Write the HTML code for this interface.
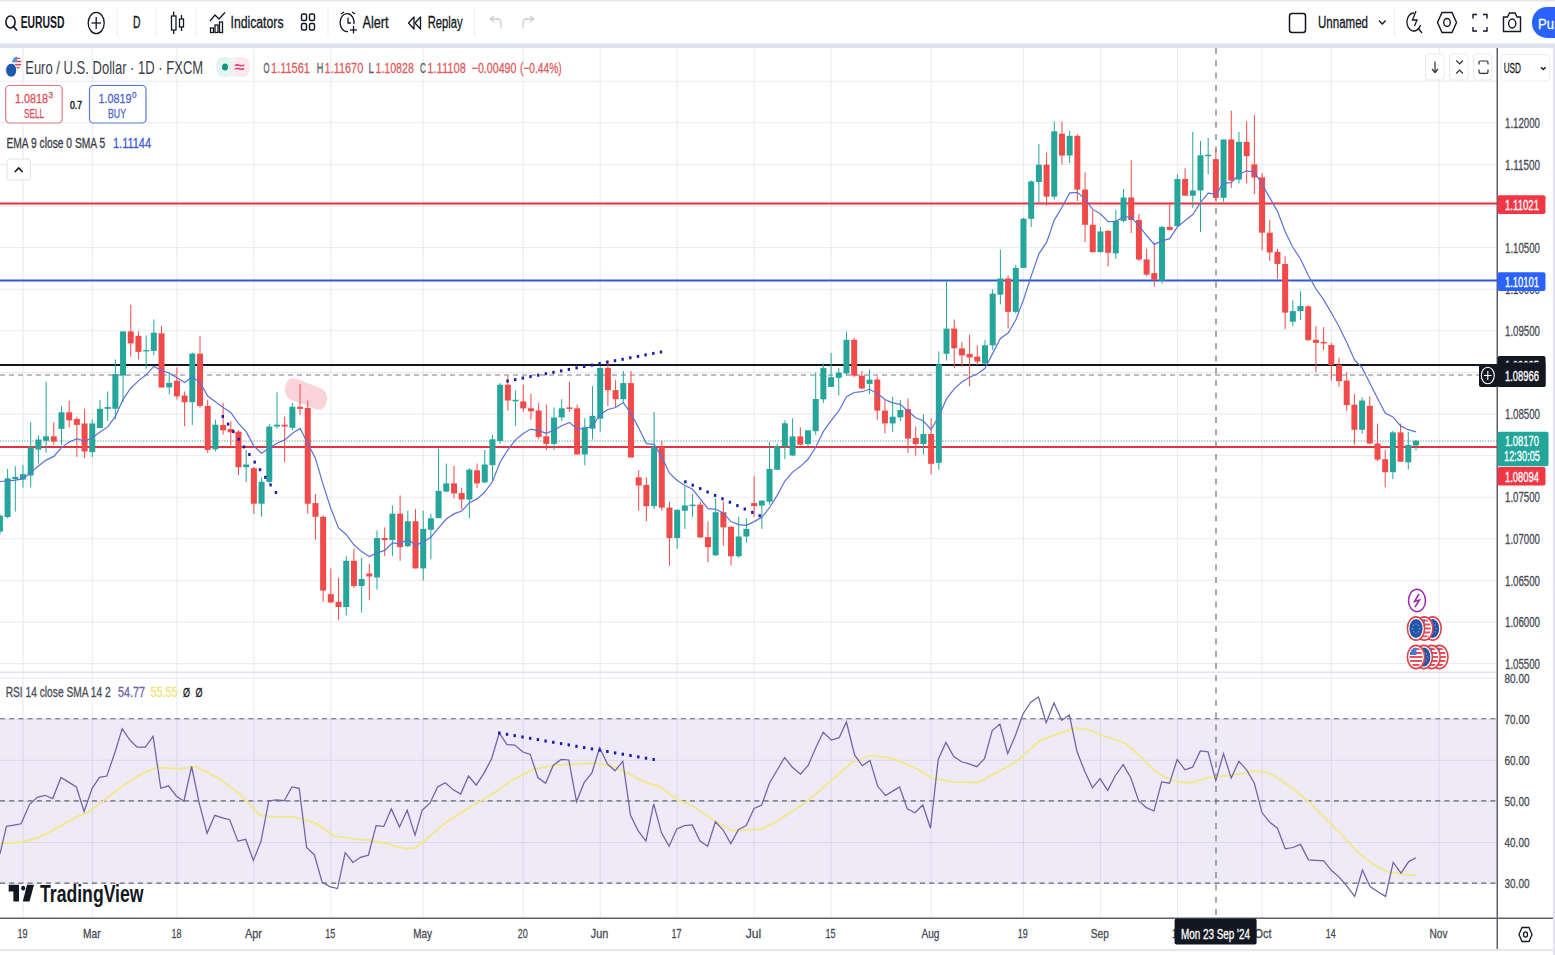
<!DOCTYPE html>
<html><head><meta charset="utf-8"><style>
html,body{margin:0;padding:0;background:#fff;}
body{width:1555px;height:955px;overflow:hidden;font-family:"Liberation Sans", sans-serif;}
svg text{font-family:"Liberation Sans", sans-serif;}
</style></head><body>
<svg width="1555" height="955" viewBox="0 0 1555 955" style="display:block">
<rect x="0" y="0" width="1555" height="955" fill="#ffffff"/>
<rect x="0" y="0" width="1555" height="1.5" fill="#e3e5ea"/>
<rect x="0" y="43.5" width="1555" height="4.5" fill="#e0e3eb"/>
<rect x="22.5" y="48" width="1" height="870" fill="#e9eaee"/>
<rect x="91.8" y="48" width="1" height="870" fill="#e9eaee"/>
<rect x="176.4" y="48" width="1" height="870" fill="#e9eaee"/>
<rect x="253.4" y="48" width="1" height="870" fill="#e9eaee"/>
<rect x="330.3" y="48" width="1" height="870" fill="#e9eaee"/>
<rect x="422.7" y="48" width="1" height="870" fill="#e9eaee"/>
<rect x="522.7" y="48" width="1" height="870" fill="#e9eaee"/>
<rect x="599.7" y="48" width="1" height="870" fill="#e9eaee"/>
<rect x="676.7" y="48" width="1" height="870" fill="#e9eaee"/>
<rect x="753.6" y="48" width="1" height="870" fill="#e9eaee"/>
<rect x="830.6" y="48" width="1" height="870" fill="#e9eaee"/>
<rect x="930.6" y="48" width="1" height="870" fill="#e9eaee"/>
<rect x="1023.0" y="48" width="1" height="870" fill="#e9eaee"/>
<rect x="1099.9" y="48" width="1" height="870" fill="#e9eaee"/>
<rect x="1176.9" y="48" width="1" height="870" fill="#e9eaee"/>
<rect x="1261.6" y="48" width="1" height="870" fill="#e9eaee"/>
<rect x="1330.8" y="48" width="1" height="870" fill="#e9eaee"/>
<rect x="1438.6" y="48" width="1" height="870" fill="#e9eaee"/>
<rect x="0" y="80.7" width="1497" height="1" fill="#e9eaee"/>
<rect x="0" y="122.3" width="1497" height="1" fill="#e9eaee"/>
<rect x="0" y="163.9" width="1497" height="1" fill="#e9eaee"/>
<rect x="0" y="205.5" width="1497" height="1" fill="#e9eaee"/>
<rect x="0" y="247.1" width="1497" height="1" fill="#e9eaee"/>
<rect x="0" y="288.7" width="1497" height="1" fill="#e9eaee"/>
<rect x="0" y="330.3" width="1497" height="1" fill="#e9eaee"/>
<rect x="0" y="371.9" width="1497" height="1" fill="#e9eaee"/>
<rect x="0" y="413.5" width="1497" height="1" fill="#e9eaee"/>
<rect x="0" y="455.1" width="1497" height="1" fill="#e9eaee"/>
<rect x="0" y="496.7" width="1497" height="1" fill="#e9eaee"/>
<rect x="0" y="538.3" width="1497" height="1" fill="#e9eaee"/>
<rect x="0" y="579.9" width="1497" height="1" fill="#e9eaee"/>
<rect x="0" y="621.5" width="1497" height="1" fill="#e9eaee"/>
<rect x="0" y="663.1" width="1497" height="1" fill="#e9eaee"/>
<rect x="0" y="677.6" width="1497" height="1" fill="#e9eaee"/>
<rect x="0" y="718.7" width="1497" height="1" fill="#e9eaee"/>
<rect x="0" y="759.8" width="1497" height="1" fill="#e9eaee"/>
<rect x="0" y="800.9" width="1497" height="1" fill="#e9eaee"/>
<rect x="0" y="842.0" width="1497" height="1" fill="#e9eaee"/>
<rect x="0" y="883.1" width="1497" height="1" fill="#e9eaee"/>
<rect x="0" y="671.5" width="1497" height="1.5" fill="#e0e3eb"/>
<rect x="0" y="718.7" width="1497" height="164.4" fill="#7e57c2" fill-opacity="0.125"/>
<line x1="0" y1="718.7" x2="1497" y2="718.7" stroke="#62656f" stroke-width="1.1" stroke-dasharray="5 4.2"/>
<line x1="0" y1="800.9" x2="1497" y2="800.9" stroke="#62656f" stroke-width="1.1" stroke-dasharray="5 4.2"/>
<line x1="0" y1="883.1" x2="1497" y2="883.1" stroke="#62656f" stroke-width="1.1" stroke-dasharray="5 4.2"/>
<rect x="0" y="202.5" width="1497" height="2" fill="#e5323f"/>
<rect x="0" y="279.5" width="1497" height="2" fill="#3058d8"/>
<rect x="0" y="364" width="1497" height="2" fill="#131722"/>
<line x1="0" y1="375" x2="1480" y2="375" stroke="#787b86" stroke-width="1" stroke-dasharray="5 4"/>
<rect x="0" y="446" width="1497" height="2" fill="#e5323f"/>
<line x1="0" y1="441" x2="1497" y2="441" stroke="#5f9e92" stroke-width="1" stroke-dasharray="1.3 1.4"/>
<line x1="1216" y1="48" x2="1216" y2="918" stroke="#6f727d" stroke-width="1.2" stroke-dasharray="6 6.3"/>
<rect x="-28.5" y="-11" width="57" height="22" rx="11" fill="#fcd3d9" transform="translate(306 394) scale(0.76 1) rotate(16)"/>
<rect x="-0.59" y="514.3" width="1" height="20.0" fill="#26a69a"/>
<rect x="-3.09" y="515.6" width="6" height="16.0" fill="#26a69a"/>
<rect x="7.11" y="468.9" width="1" height="49.4" fill="#26a69a"/>
<rect x="4.61" y="478.3" width="6" height="38.7" fill="#26a69a"/>
<rect x="14.80" y="466.2" width="1" height="45.4" fill="#26a69a"/>
<rect x="12.30" y="476.9" width="6" height="2.1" fill="#26a69a"/>
<rect x="22.50" y="464.9" width="1" height="22.7" fill="#26a69a"/>
<rect x="20.00" y="474.2" width="6" height="5.3" fill="#26a69a"/>
<rect x="30.20" y="422.2" width="1" height="65.4" fill="#26a69a"/>
<rect x="27.70" y="447.5" width="6" height="28.0" fill="#26a69a"/>
<rect x="37.89" y="435.5" width="1" height="28.0" fill="#26a69a"/>
<rect x="35.39" y="439.5" width="6" height="10.1" fill="#26a69a"/>
<rect x="45.59" y="382.1" width="1" height="70.8" fill="#26a69a"/>
<rect x="43.09" y="436.3" width="6" height="4.5" fill="#26a69a"/>
<rect x="53.28" y="422.2" width="1" height="22.7" fill="#f14a4a"/>
<rect x="50.78" y="436.3" width="6" height="5.3" fill="#f14a4a"/>
<rect x="60.98" y="406.2" width="1" height="38.7" fill="#26a69a"/>
<rect x="58.48" y="412.3" width="6" height="16.6" fill="#26a69a"/>
<rect x="68.68" y="400.8" width="1" height="26.7" fill="#f14a4a"/>
<rect x="66.18" y="412.3" width="6" height="8.0" fill="#f14a4a"/>
<rect x="76.37" y="416.8" width="1" height="40.1" fill="#f14a4a"/>
<rect x="73.87" y="419.0" width="6" height="5.9" fill="#f14a4a"/>
<rect x="84.07" y="408.8" width="1" height="49.4" fill="#f14a4a"/>
<rect x="81.57" y="423.5" width="6" height="28.0" fill="#f14a4a"/>
<rect x="91.76" y="419.5" width="1" height="37.4" fill="#26a69a"/>
<rect x="89.26" y="423.5" width="6" height="28.6" fill="#26a69a"/>
<rect x="99.46" y="400.0" width="1" height="28.3" fill="#26a69a"/>
<rect x="96.96" y="408.8" width="6" height="19.2" fill="#26a69a"/>
<rect x="107.16" y="391.5" width="1" height="29.4" fill="#26a69a"/>
<rect x="104.66" y="407.0" width="6" height="1.9" fill="#26a69a"/>
<rect x="114.85" y="359.4" width="1" height="60.1" fill="#26a69a"/>
<rect x="112.35" y="374.1" width="6" height="34.7" fill="#26a69a"/>
<rect x="122.55" y="331.4" width="1" height="70.8" fill="#26a69a"/>
<rect x="120.05" y="331.4" width="6" height="44.1" fill="#26a69a"/>
<rect x="130.24" y="304.7" width="1" height="52.1" fill="#f14a4a"/>
<rect x="127.74" y="331.4" width="6" height="12.0" fill="#f14a4a"/>
<rect x="137.94" y="331.4" width="1" height="28.0" fill="#f14a4a"/>
<rect x="135.44" y="335.9" width="6" height="16.0" fill="#f14a4a"/>
<rect x="145.64" y="335.4" width="1" height="33.4" fill="#26a69a"/>
<rect x="143.14" y="350.1" width="6" height="1.3" fill="#26a69a"/>
<rect x="153.33" y="319.4" width="1" height="36.0" fill="#26a69a"/>
<rect x="150.83" y="332.7" width="6" height="18.2" fill="#26a69a"/>
<rect x="161.03" y="326.0" width="1" height="61.4" fill="#f14a4a"/>
<rect x="158.53" y="333.3" width="6" height="54.2" fill="#f14a4a"/>
<rect x="168.72" y="372.8" width="1" height="21.4" fill="#26a69a"/>
<rect x="166.22" y="382.9" width="6" height="4.5" fill="#26a69a"/>
<rect x="176.42" y="367.4" width="1" height="32.0" fill="#f14a4a"/>
<rect x="173.92" y="380.8" width="6" height="15.5" fill="#f14a4a"/>
<rect x="184.12" y="391.5" width="1" height="34.7" fill="#f14a4a"/>
<rect x="181.62" y="395.5" width="6" height="6.7" fill="#f14a4a"/>
<rect x="191.81" y="352.8" width="1" height="72.1" fill="#26a69a"/>
<rect x="189.31" y="353.6" width="6" height="48.6" fill="#26a69a"/>
<rect x="199.51" y="336.1" width="1" height="71.4" fill="#f14a4a"/>
<rect x="197.01" y="353.7" width="6" height="52.2" fill="#f14a4a"/>
<rect x="207.20" y="399.8" width="1" height="53.1" fill="#f14a4a"/>
<rect x="204.70" y="405.9" width="6" height="44.0" fill="#f14a4a"/>
<rect x="214.90" y="419.6" width="1" height="31.9" fill="#26a69a"/>
<rect x="212.40" y="424.7" width="6" height="24.6" fill="#26a69a"/>
<rect x="222.60" y="402.9" width="1" height="31.9" fill="#f14a4a"/>
<rect x="220.10" y="425.1" width="6" height="5.2" fill="#f14a4a"/>
<rect x="230.29" y="421.1" width="1" height="24.3" fill="#f14a4a"/>
<rect x="227.79" y="429.0" width="6" height="3.3" fill="#f14a4a"/>
<rect x="237.99" y="430.2" width="1" height="44.9" fill="#f14a4a"/>
<rect x="235.49" y="431.7" width="6" height="35.5" fill="#f14a4a"/>
<rect x="245.68" y="450.0" width="1" height="31.9" fill="#26a69a"/>
<rect x="243.18" y="464.5" width="6" height="2.7" fill="#26a69a"/>
<rect x="253.38" y="466.7" width="1" height="47.1" fill="#f14a4a"/>
<rect x="250.88" y="468.2" width="6" height="35.5" fill="#f14a4a"/>
<rect x="261.08" y="477.3" width="1" height="39.5" fill="#26a69a"/>
<rect x="258.58" y="481.8" width="6" height="21.9" fill="#26a69a"/>
<rect x="268.77" y="424.1" width="1" height="59.2" fill="#26a69a"/>
<rect x="266.27" y="426.6" width="6" height="55.3" fill="#26a69a"/>
<rect x="276.47" y="392.3" width="1" height="36.4" fill="#26a69a"/>
<rect x="273.97" y="424.7" width="6" height="1.8" fill="#26a69a"/>
<rect x="284.16" y="416.5" width="1" height="45.6" fill="#f14a4a"/>
<rect x="281.66" y="424.7" width="6" height="1.8" fill="#f14a4a"/>
<rect x="291.86" y="402.9" width="1" height="27.3" fill="#26a69a"/>
<rect x="289.36" y="406.8" width="6" height="21.0" fill="#26a69a"/>
<rect x="299.56" y="384.1" width="1" height="31.0" fill="#f14a4a"/>
<rect x="297.06" y="406.8" width="6" height="2.1" fill="#f14a4a"/>
<rect x="307.25" y="400.5" width="1" height="113.3" fill="#f14a4a"/>
<rect x="304.75" y="408.0" width="6" height="95.7" fill="#f14a4a"/>
<rect x="314.95" y="494.0" width="1" height="45.6" fill="#f14a4a"/>
<rect x="312.45" y="503.1" width="6" height="13.7" fill="#f14a4a"/>
<rect x="322.64" y="515.2" width="1" height="86.5" fill="#f14a4a"/>
<rect x="320.14" y="516.8" width="6" height="73.8" fill="#f14a4a"/>
<rect x="330.34" y="568.4" width="1" height="34.9" fill="#f14a4a"/>
<rect x="327.84" y="594.2" width="6" height="8.2" fill="#f14a4a"/>
<rect x="338.04" y="577.5" width="1" height="42.5" fill="#f14a4a"/>
<rect x="335.54" y="601.8" width="6" height="5.2" fill="#f14a4a"/>
<rect x="345.73" y="556.2" width="1" height="59.2" fill="#26a69a"/>
<rect x="343.23" y="560.8" width="6" height="46.2" fill="#26a69a"/>
<rect x="353.43" y="548.6" width="1" height="39.5" fill="#f14a4a"/>
<rect x="350.93" y="560.8" width="6" height="25.2" fill="#f14a4a"/>
<rect x="361.12" y="557.8" width="1" height="54.7" fill="#26a69a"/>
<rect x="358.62" y="579.0" width="6" height="7.0" fill="#26a69a"/>
<rect x="368.82" y="563.8" width="1" height="36.4" fill="#f14a4a"/>
<rect x="366.32" y="573.5" width="6" height="3.0" fill="#f14a4a"/>
<rect x="376.52" y="530.4" width="1" height="59.2" fill="#26a69a"/>
<rect x="374.02" y="538.0" width="6" height="39.5" fill="#26a69a"/>
<rect x="384.21" y="527.4" width="1" height="28.8" fill="#f14a4a"/>
<rect x="381.71" y="538.0" width="6" height="2.1" fill="#f14a4a"/>
<rect x="391.91" y="505.5" width="1" height="50.7" fill="#26a69a"/>
<rect x="389.41" y="513.7" width="6" height="26.4" fill="#26a69a"/>
<rect x="399.60" y="495.5" width="1" height="65.3" fill="#f14a4a"/>
<rect x="397.10" y="513.7" width="6" height="33.4" fill="#f14a4a"/>
<rect x="407.30" y="510.7" width="1" height="36.4" fill="#26a69a"/>
<rect x="404.80" y="521.3" width="6" height="24.9" fill="#26a69a"/>
<rect x="415.00" y="509.2" width="1" height="59.2" fill="#f14a4a"/>
<rect x="412.50" y="521.3" width="6" height="47.1" fill="#f14a4a"/>
<rect x="422.69" y="510.7" width="1" height="69.8" fill="#26a69a"/>
<rect x="420.19" y="528.9" width="6" height="39.5" fill="#26a69a"/>
<rect x="430.39" y="513.7" width="1" height="45.6" fill="#26a69a"/>
<rect x="427.89" y="518.3" width="6" height="11.5" fill="#26a69a"/>
<rect x="438.08" y="448.4" width="1" height="69.8" fill="#26a69a"/>
<rect x="435.58" y="490.9" width="6" height="27.3" fill="#26a69a"/>
<rect x="445.78" y="463.6" width="1" height="28.8" fill="#26a69a"/>
<rect x="443.28" y="483.4" width="6" height="8.2" fill="#26a69a"/>
<rect x="453.48" y="466.0" width="1" height="32.5" fill="#f14a4a"/>
<rect x="450.98" y="483.4" width="6" height="10.0" fill="#f14a4a"/>
<rect x="461.17" y="487.9" width="1" height="21.3" fill="#f14a4a"/>
<rect x="458.67" y="493.1" width="6" height="6.4" fill="#f14a4a"/>
<rect x="468.87" y="468.2" width="1" height="50.1" fill="#26a69a"/>
<rect x="466.37" y="469.7" width="6" height="29.8" fill="#26a69a"/>
<rect x="476.56" y="463.6" width="1" height="24.3" fill="#f14a4a"/>
<rect x="474.06" y="470.3" width="6" height="13.1" fill="#f14a4a"/>
<rect x="484.26" y="450.0" width="1" height="33.4" fill="#26a69a"/>
<rect x="481.76" y="464.5" width="6" height="17.9" fill="#26a69a"/>
<rect x="491.96" y="434.8" width="1" height="47.1" fill="#26a69a"/>
<rect x="489.46" y="439.3" width="6" height="25.8" fill="#26a69a"/>
<rect x="499.65" y="383.1" width="1" height="60.7" fill="#26a69a"/>
<rect x="497.15" y="384.7" width="6" height="56.2" fill="#26a69a"/>
<rect x="507.35" y="375.6" width="1" height="34.9" fill="#f14a4a"/>
<rect x="504.85" y="384.7" width="6" height="15.8" fill="#f14a4a"/>
<rect x="515.04" y="390.7" width="1" height="34.9" fill="#26a69a"/>
<rect x="512.54" y="399.8" width="6" height="1.5" fill="#26a69a"/>
<rect x="522.74" y="384.7" width="1" height="27.3" fill="#f14a4a"/>
<rect x="520.24" y="401.4" width="6" height="7.0" fill="#f14a4a"/>
<rect x="530.44" y="393.8" width="1" height="25.8" fill="#f14a4a"/>
<rect x="527.94" y="408.3" width="6" height="3.0" fill="#f14a4a"/>
<rect x="538.13" y="402.9" width="1" height="36.4" fill="#f14a4a"/>
<rect x="535.63" y="410.5" width="6" height="26.4" fill="#f14a4a"/>
<rect x="545.83" y="404.4" width="1" height="45.6" fill="#f14a4a"/>
<rect x="543.33" y="436.3" width="6" height="7.6" fill="#f14a4a"/>
<rect x="553.52" y="407.4" width="1" height="42.5" fill="#26a69a"/>
<rect x="551.02" y="417.5" width="6" height="26.4" fill="#26a69a"/>
<rect x="561.22" y="399.2" width="1" height="21.9" fill="#26a69a"/>
<rect x="558.72" y="408.3" width="6" height="9.1" fill="#26a69a"/>
<rect x="568.92" y="381.6" width="1" height="30.4" fill="#f14a4a"/>
<rect x="566.42" y="407.4" width="6" height="1.5" fill="#f14a4a"/>
<rect x="576.61" y="404.4" width="1" height="50.1" fill="#f14a4a"/>
<rect x="574.11" y="408.3" width="6" height="46.2" fill="#f14a4a"/>
<rect x="584.31" y="418.1" width="1" height="47.1" fill="#26a69a"/>
<rect x="581.81" y="427.2" width="6" height="27.3" fill="#26a69a"/>
<rect x="592.00" y="386.2" width="1" height="53.1" fill="#26a69a"/>
<rect x="589.50" y="415.9" width="6" height="12.8" fill="#26a69a"/>
<rect x="599.70" y="366.4" width="1" height="65.3" fill="#26a69a"/>
<rect x="597.20" y="368.0" width="6" height="50.7" fill="#26a69a"/>
<rect x="607.40" y="360.4" width="1" height="45.6" fill="#f14a4a"/>
<rect x="604.90" y="368.0" width="6" height="22.2" fill="#f14a4a"/>
<rect x="615.09" y="380.1" width="1" height="27.3" fill="#f14a4a"/>
<rect x="612.59" y="390.1" width="6" height="9.1" fill="#f14a4a"/>
<rect x="622.79" y="371.0" width="1" height="31.9" fill="#26a69a"/>
<rect x="620.29" y="383.1" width="6" height="16.1" fill="#26a69a"/>
<rect x="630.48" y="371.0" width="1" height="86.5" fill="#f14a4a"/>
<rect x="627.98" y="383.1" width="6" height="74.4" fill="#f14a4a"/>
<rect x="638.18" y="470.3" width="1" height="40.4" fill="#f14a4a"/>
<rect x="635.68" y="477.3" width="6" height="8.2" fill="#f14a4a"/>
<rect x="645.88" y="477.3" width="1" height="44.0" fill="#f14a4a"/>
<rect x="643.38" y="484.9" width="6" height="21.3" fill="#f14a4a"/>
<rect x="653.57" y="412.0" width="1" height="97.2" fill="#26a69a"/>
<rect x="651.07" y="446.9" width="6" height="59.2" fill="#26a69a"/>
<rect x="661.27" y="440.8" width="1" height="69.8" fill="#f14a4a"/>
<rect x="658.77" y="446.9" width="6" height="60.7" fill="#f14a4a"/>
<rect x="668.96" y="501.6" width="1" height="63.8" fill="#f14a4a"/>
<rect x="666.46" y="507.6" width="6" height="30.4" fill="#f14a4a"/>
<rect x="676.66" y="509.2" width="1" height="39.5" fill="#26a69a"/>
<rect x="674.16" y="509.8" width="6" height="28.2" fill="#26a69a"/>
<rect x="684.36" y="486.4" width="1" height="42.5" fill="#26a69a"/>
<rect x="681.86" y="505.5" width="6" height="5.2" fill="#26a69a"/>
<rect x="692.05" y="494.0" width="1" height="22.8" fill="#26a69a"/>
<rect x="689.55" y="504.6" width="6" height="1.5" fill="#26a69a"/>
<rect x="699.75" y="501.6" width="1" height="36.4" fill="#f14a4a"/>
<rect x="697.25" y="504.6" width="6" height="32.8" fill="#f14a4a"/>
<rect x="707.44" y="521.3" width="1" height="41.0" fill="#f14a4a"/>
<rect x="704.94" y="537.1" width="6" height="10.0" fill="#f14a4a"/>
<rect x="715.14" y="498.5" width="1" height="57.7" fill="#26a69a"/>
<rect x="712.64" y="512.2" width="6" height="43.1" fill="#26a69a"/>
<rect x="722.84" y="501.6" width="1" height="44.0" fill="#f14a4a"/>
<rect x="720.34" y="512.2" width="6" height="15.2" fill="#f14a4a"/>
<rect x="730.53" y="525.9" width="1" height="39.5" fill="#f14a4a"/>
<rect x="728.03" y="526.8" width="6" height="29.5" fill="#f14a4a"/>
<rect x="738.23" y="516.8" width="1" height="41.0" fill="#26a69a"/>
<rect x="735.73" y="536.5" width="6" height="19.7" fill="#26a69a"/>
<rect x="745.92" y="518.3" width="1" height="24.3" fill="#26a69a"/>
<rect x="743.42" y="528.9" width="6" height="7.6" fill="#26a69a"/>
<rect x="753.62" y="475.8" width="1" height="41.0" fill="#f14a4a"/>
<rect x="751.12" y="503.1" width="6" height="3.0" fill="#f14a4a"/>
<rect x="761.32" y="500.1" width="1" height="28.8" fill="#26a69a"/>
<rect x="758.82" y="500.7" width="6" height="4.9" fill="#26a69a"/>
<rect x="769.01" y="442.5" width="1" height="62.3" fill="#26a69a"/>
<rect x="766.51" y="468.9" width="6" height="32.8" fill="#26a69a"/>
<rect x="776.71" y="444.0" width="1" height="25.8" fill="#26a69a"/>
<rect x="774.21" y="446.4" width="6" height="23.4" fill="#26a69a"/>
<rect x="784.40" y="420.3" width="1" height="38.9" fill="#26a69a"/>
<rect x="781.90" y="423.3" width="6" height="23.1" fill="#26a69a"/>
<rect x="792.10" y="418.2" width="1" height="38.0" fill="#26a69a"/>
<rect x="789.60" y="436.4" width="6" height="19.1" fill="#26a69a"/>
<rect x="799.80" y="427.3" width="1" height="18.2" fill="#f14a4a"/>
<rect x="797.30" y="436.4" width="6" height="8.2" fill="#f14a4a"/>
<rect x="807.49" y="430.3" width="1" height="16.7" fill="#26a69a"/>
<rect x="804.99" y="430.3" width="6" height="13.7" fill="#26a69a"/>
<rect x="815.19" y="372.6" width="1" height="62.3" fill="#26a69a"/>
<rect x="812.69" y="399.0" width="6" height="32.2" fill="#26a69a"/>
<rect x="822.88" y="363.5" width="1" height="39.5" fill="#26a69a"/>
<rect x="820.38" y="368.1" width="6" height="31.3" fill="#26a69a"/>
<rect x="830.58" y="352.9" width="1" height="34.0" fill="#26a69a"/>
<rect x="828.08" y="377.2" width="6" height="9.7" fill="#26a69a"/>
<rect x="838.28" y="368.1" width="1" height="27.3" fill="#26a69a"/>
<rect x="835.78" y="372.6" width="6" height="5.2" fill="#26a69a"/>
<rect x="845.97" y="331.6" width="1" height="44.0" fill="#26a69a"/>
<rect x="843.47" y="339.8" width="6" height="33.7" fill="#26a69a"/>
<rect x="853.67" y="337.7" width="1" height="39.5" fill="#f14a4a"/>
<rect x="851.17" y="339.8" width="6" height="35.8" fill="#f14a4a"/>
<rect x="861.36" y="371.1" width="1" height="18.2" fill="#f14a4a"/>
<rect x="858.86" y="375.7" width="6" height="12.8" fill="#f14a4a"/>
<rect x="869.06" y="369.6" width="1" height="24.3" fill="#26a69a"/>
<rect x="866.56" y="379.6" width="6" height="4.3" fill="#26a69a"/>
<rect x="876.76" y="376.6" width="1" height="43.1" fill="#f14a4a"/>
<rect x="874.26" y="379.6" width="6" height="31.0" fill="#f14a4a"/>
<rect x="884.45" y="400.0" width="1" height="33.4" fill="#f14a4a"/>
<rect x="881.95" y="410.6" width="6" height="12.8" fill="#f14a4a"/>
<rect x="892.15" y="396.9" width="1" height="34.9" fill="#26a69a"/>
<rect x="889.65" y="416.7" width="6" height="6.7" fill="#26a69a"/>
<rect x="899.84" y="400.0" width="1" height="21.3" fill="#26a69a"/>
<rect x="897.34" y="410.0" width="6" height="7.3" fill="#26a69a"/>
<rect x="907.54" y="398.4" width="1" height="54.7" fill="#f14a4a"/>
<rect x="905.04" y="409.1" width="6" height="29.5" fill="#f14a4a"/>
<rect x="915.24" y="426.4" width="1" height="29.2" fill="#f14a4a"/>
<rect x="912.74" y="437.9" width="6" height="6.1" fill="#f14a4a"/>
<rect x="922.93" y="414.2" width="1" height="40.4" fill="#26a69a"/>
<rect x="920.43" y="434.0" width="6" height="10.0" fill="#26a69a"/>
<rect x="930.63" y="418.2" width="1" height="56.2" fill="#f14a4a"/>
<rect x="928.13" y="434.0" width="6" height="29.8" fill="#f14a4a"/>
<rect x="938.32" y="351.4" width="1" height="118.4" fill="#26a69a"/>
<rect x="935.82" y="364.4" width="6" height="98.4" fill="#26a69a"/>
<rect x="946.02" y="281.5" width="1" height="79.0" fill="#26a69a"/>
<rect x="943.52" y="328.6" width="6" height="25.2" fill="#26a69a"/>
<rect x="953.72" y="319.5" width="1" height="48.6" fill="#f14a4a"/>
<rect x="951.22" y="328.6" width="6" height="19.7" fill="#f14a4a"/>
<rect x="961.41" y="342.3" width="1" height="24.3" fill="#f14a4a"/>
<rect x="958.91" y="348.4" width="6" height="7.0" fill="#f14a4a"/>
<rect x="969.11" y="334.7" width="1" height="51.6" fill="#f14a4a"/>
<rect x="966.61" y="353.9" width="6" height="3.6" fill="#f14a4a"/>
<rect x="976.80" y="345.3" width="1" height="19.7" fill="#f14a4a"/>
<rect x="974.30" y="356.6" width="6" height="4.9" fill="#f14a4a"/>
<rect x="984.50" y="340.2" width="1" height="24.3" fill="#26a69a"/>
<rect x="982.00" y="345.3" width="6" height="18.2" fill="#26a69a"/>
<rect x="992.20" y="289.2" width="1" height="60.7" fill="#26a69a"/>
<rect x="989.70" y="293.7" width="6" height="51.6" fill="#26a69a"/>
<rect x="999.89" y="249.7" width="1" height="54.7" fill="#26a69a"/>
<rect x="997.39" y="278.5" width="6" height="16.1" fill="#26a69a"/>
<rect x="1007.59" y="275.5" width="1" height="53.1" fill="#f14a4a"/>
<rect x="1005.09" y="278.5" width="6" height="33.4" fill="#f14a4a"/>
<rect x="1015.28" y="264.9" width="1" height="48.6" fill="#26a69a"/>
<rect x="1012.78" y="267.9" width="6" height="44.0" fill="#26a69a"/>
<rect x="1022.98" y="217.8" width="1" height="50.1" fill="#26a69a"/>
<rect x="1020.48" y="218.7" width="6" height="49.2" fill="#26a69a"/>
<rect x="1030.68" y="180.5" width="1" height="46.5" fill="#26a69a"/>
<rect x="1028.18" y="181.4" width="6" height="37.4" fill="#26a69a"/>
<rect x="1038.37" y="144.0" width="1" height="58.6" fill="#26a69a"/>
<rect x="1035.87" y="164.7" width="6" height="17.3" fill="#26a69a"/>
<rect x="1046.07" y="152.5" width="1" height="53.1" fill="#f14a4a"/>
<rect x="1043.57" y="164.7" width="6" height="31.9" fill="#f14a4a"/>
<rect x="1053.76" y="121.5" width="1" height="78.0" fill="#26a69a"/>
<rect x="1051.26" y="131.3" width="6" height="65.3" fill="#26a69a"/>
<rect x="1061.46" y="121.5" width="1" height="43.1" fill="#f14a4a"/>
<rect x="1058.96" y="133.7" width="6" height="21.9" fill="#f14a4a"/>
<rect x="1069.16" y="130.6" width="1" height="32.5" fill="#26a69a"/>
<rect x="1066.66" y="135.8" width="6" height="19.7" fill="#26a69a"/>
<rect x="1076.85" y="134.3" width="1" height="66.8" fill="#f14a4a"/>
<rect x="1074.35" y="135.8" width="6" height="53.8" fill="#f14a4a"/>
<rect x="1084.55" y="172.3" width="1" height="69.8" fill="#f14a4a"/>
<rect x="1082.05" y="189.6" width="6" height="35.2" fill="#f14a4a"/>
<rect x="1092.24" y="210.2" width="1" height="42.5" fill="#f14a4a"/>
<rect x="1089.74" y="224.8" width="6" height="27.3" fill="#f14a4a"/>
<rect x="1099.94" y="226.9" width="1" height="25.8" fill="#26a69a"/>
<rect x="1097.44" y="231.5" width="6" height="20.6" fill="#26a69a"/>
<rect x="1107.64" y="230.0" width="1" height="36.4" fill="#f14a4a"/>
<rect x="1105.14" y="230.9" width="6" height="21.9" fill="#f14a4a"/>
<rect x="1115.33" y="209.6" width="1" height="49.2" fill="#26a69a"/>
<rect x="1112.83" y="220.8" width="6" height="32.5" fill="#26a69a"/>
<rect x="1123.03" y="189.0" width="1" height="33.4" fill="#26a69a"/>
<rect x="1120.53" y="197.5" width="6" height="23.4" fill="#26a69a"/>
<rect x="1130.72" y="160.1" width="1" height="72.9" fill="#f14a4a"/>
<rect x="1128.22" y="197.5" width="6" height="22.5" fill="#f14a4a"/>
<rect x="1138.42" y="213.9" width="1" height="47.1" fill="#f14a4a"/>
<rect x="1135.92" y="220.0" width="6" height="39.5" fill="#f14a4a"/>
<rect x="1146.12" y="248.8" width="1" height="27.3" fill="#f14a4a"/>
<rect x="1143.62" y="259.4" width="6" height="15.2" fill="#f14a4a"/>
<rect x="1153.81" y="242.7" width="1" height="44.0" fill="#f14a4a"/>
<rect x="1151.31" y="273.1" width="6" height="6.7" fill="#f14a4a"/>
<rect x="1161.51" y="226.0" width="1" height="57.7" fill="#26a69a"/>
<rect x="1159.01" y="226.9" width="6" height="53.8" fill="#26a69a"/>
<rect x="1169.20" y="203.2" width="1" height="27.3" fill="#f14a4a"/>
<rect x="1166.70" y="226.9" width="6" height="3.0" fill="#f14a4a"/>
<rect x="1176.90" y="174.4" width="1" height="53.1" fill="#26a69a"/>
<rect x="1174.40" y="179.0" width="6" height="47.1" fill="#26a69a"/>
<rect x="1184.60" y="168.3" width="1" height="27.3" fill="#f14a4a"/>
<rect x="1182.10" y="179.0" width="6" height="16.7" fill="#f14a4a"/>
<rect x="1192.29" y="131.9" width="1" height="75.9" fill="#26a69a"/>
<rect x="1189.79" y="190.5" width="6" height="5.2" fill="#26a69a"/>
<rect x="1199.99" y="141.0" width="1" height="91.1" fill="#26a69a"/>
<rect x="1197.49" y="155.3" width="6" height="35.2" fill="#26a69a"/>
<rect x="1207.68" y="138.0" width="1" height="36.4" fill="#26a69a"/>
<rect x="1205.18" y="154.7" width="6" height="1.5" fill="#26a69a"/>
<rect x="1215.38" y="148.6" width="1" height="51.6" fill="#f14a4a"/>
<rect x="1212.88" y="159.2" width="6" height="38.6" fill="#f14a4a"/>
<rect x="1223.08" y="139.5" width="1" height="62.3" fill="#26a69a"/>
<rect x="1220.58" y="139.5" width="6" height="58.3" fill="#26a69a"/>
<rect x="1230.77" y="110.6" width="1" height="77.4" fill="#f14a4a"/>
<rect x="1228.27" y="139.5" width="6" height="41.0" fill="#f14a4a"/>
<rect x="1238.47" y="131.9" width="1" height="51.6" fill="#26a69a"/>
<rect x="1235.97" y="141.9" width="6" height="37.7" fill="#26a69a"/>
<rect x="1246.16" y="121.3" width="1" height="62.3" fill="#f14a4a"/>
<rect x="1243.66" y="141.9" width="6" height="14.3" fill="#f14a4a"/>
<rect x="1253.86" y="115.2" width="1" height="79.0" fill="#f14a4a"/>
<rect x="1251.36" y="164.4" width="6" height="13.1" fill="#f14a4a"/>
<rect x="1261.56" y="172.9" width="1" height="77.4" fill="#f14a4a"/>
<rect x="1259.06" y="177.4" width="6" height="55.3" fill="#f14a4a"/>
<rect x="1269.25" y="220.0" width="1" height="41.0" fill="#f14a4a"/>
<rect x="1266.75" y="232.7" width="6" height="19.7" fill="#f14a4a"/>
<rect x="1276.95" y="248.8" width="1" height="30.4" fill="#f14a4a"/>
<rect x="1274.45" y="251.8" width="6" height="12.1" fill="#f14a4a"/>
<rect x="1284.64" y="256.4" width="1" height="72.9" fill="#f14a4a"/>
<rect x="1282.14" y="264.0" width="6" height="48.6" fill="#f14a4a"/>
<rect x="1292.34" y="300.4" width="1" height="25.8" fill="#26a69a"/>
<rect x="1289.84" y="311.1" width="6" height="10.6" fill="#26a69a"/>
<rect x="1300.04" y="291.3" width="1" height="28.8" fill="#26a69a"/>
<rect x="1297.54" y="305.9" width="6" height="5.2" fill="#26a69a"/>
<rect x="1307.73" y="305.2" width="1" height="35.6" fill="#f14a4a"/>
<rect x="1305.23" y="306.3" width="6" height="33.9" fill="#f14a4a"/>
<rect x="1315.43" y="326.2" width="1" height="46.1" fill="#f14a4a"/>
<rect x="1312.93" y="339.8" width="6" height="3.1" fill="#f14a4a"/>
<rect x="1323.12" y="327.2" width="1" height="23.0" fill="#f14a4a"/>
<rect x="1320.62" y="341.9" width="6" height="1.5" fill="#f14a4a"/>
<rect x="1330.82" y="342.9" width="1" height="37.7" fill="#f14a4a"/>
<rect x="1328.32" y="345.0" width="6" height="19.9" fill="#f14a4a"/>
<rect x="1338.52" y="357.6" width="1" height="29.3" fill="#f14a4a"/>
<rect x="1336.02" y="364.9" width="6" height="16.3" fill="#f14a4a"/>
<rect x="1346.21" y="372.3" width="1" height="38.7" fill="#f14a4a"/>
<rect x="1343.71" y="380.6" width="6" height="24.5" fill="#f14a4a"/>
<rect x="1353.91" y="394.2" width="1" height="50.3" fill="#f14a4a"/>
<rect x="1351.41" y="404.7" width="6" height="25.1" fill="#f14a4a"/>
<rect x="1361.60" y="397.4" width="1" height="36.6" fill="#26a69a"/>
<rect x="1359.10" y="400.5" width="6" height="29.3" fill="#26a69a"/>
<rect x="1369.30" y="396.3" width="1" height="48.2" fill="#f14a4a"/>
<rect x="1366.80" y="405.8" width="6" height="37.7" fill="#f14a4a"/>
<rect x="1377.00" y="423.6" width="1" height="37.7" fill="#f14a4a"/>
<rect x="1374.50" y="443.5" width="6" height="16.1" fill="#f14a4a"/>
<rect x="1384.69" y="449.7" width="1" height="37.7" fill="#f14a4a"/>
<rect x="1382.19" y="459.2" width="6" height="13.0" fill="#f14a4a"/>
<rect x="1392.39" y="430.9" width="1" height="48.2" fill="#26a69a"/>
<rect x="1389.89" y="432.4" width="6" height="39.8" fill="#26a69a"/>
<rect x="1400.08" y="423.6" width="1" height="38.1" fill="#f14a4a"/>
<rect x="1397.58" y="432.4" width="6" height="29.3" fill="#f14a4a"/>
<rect x="1407.78" y="431.9" width="1" height="37.7" fill="#26a69a"/>
<rect x="1405.28" y="444.9" width="6" height="17.4" fill="#26a69a"/>
<rect x="1415.48" y="439.9" width="1" height="10.5" fill="#26a69a"/>
<rect x="1412.98" y="440.7" width="6" height="4.8" fill="#26a69a"/>
<polyline points="-0.1,481.5 7.6,480.9 15.3,480.1 23.0,478.9 30.7,472.6 38.4,466.0 46.1,460.1 53.8,456.4 61.5,447.6 69.2,442.1 76.9,438.7 84.6,441.2 92.3,437.7 100.0,431.9 107.7,426.9 115.4,416.4 123.0,399.4 130.7,388.2 138.4,380.9 146.1,374.8 153.8,366.4 161.5,370.6 169.2,373.0 176.9,377.7 184.6,382.6 192.3,376.8 200.0,382.6 207.7,396.1 215.4,401.8 223.1,407.5 230.8,412.5 238.5,423.4 246.2,431.6 253.9,446.1 261.6,453.2 269.3,447.9 277.0,443.3 284.7,439.9 292.4,433.3 300.1,428.4 307.8,443.5 315.4,458.1 323.1,484.6 330.8,508.2 338.5,527.9 346.2,534.5 353.9,544.8 361.6,551.6 369.3,556.6 377.0,552.9 384.7,550.4 392.4,543.0 400.1,543.8 407.8,539.3 415.5,545.2 423.2,541.9 430.9,537.2 438.6,527.9 446.3,519.0 454.0,513.9 461.7,511.0 469.4,502.7 477.1,498.9 484.8,492.0 492.5,481.5 500.2,462.1 507.8,449.8 515.5,439.8 523.2,433.5 530.9,429.1 538.6,430.6 546.3,433.3 554.0,430.1 561.7,425.8 569.4,422.4 577.1,428.8 584.8,428.5 592.5,426.0 600.2,414.4 607.9,409.5 615.6,407.5 623.3,402.6 631.0,413.6 638.7,428.0 646.4,443.6 654.1,444.3 661.8,456.9 669.5,473.2 677.2,480.5 684.9,485.5 692.6,489.3 700.2,498.9 707.9,508.6 715.6,509.3 723.3,512.9 731.0,521.6 738.7,524.6 746.4,525.4 754.1,521.6 761.8,517.4 769.5,507.7 777.2,495.4 784.9,481.0 792.6,472.1 800.3,466.6 808.0,459.3 815.7,447.3 823.4,431.4 831.1,420.6 838.8,411.0 846.5,396.8 854.2,392.5 861.9,391.7 869.6,389.3 877.3,393.5 885.0,399.5 892.6,402.9 900.3,404.3 908.0,411.2 915.7,417.7 923.4,421.0 931.1,429.5 938.8,416.5 946.5,398.9 954.2,388.8 961.9,382.1 969.6,377.2 977.3,374.0 985.0,368.3 992.7,353.4 1000.4,338.4 1008.1,333.1 1015.8,320.1 1023.5,299.8 1031.2,276.1 1038.9,253.8 1046.6,242.4 1054.3,220.1 1062.0,207.2 1069.7,192.9 1077.4,192.3 1085.0,198.8 1092.7,209.4 1100.4,213.8 1108.1,221.6 1115.8,221.5 1123.5,216.7 1131.2,217.3 1138.9,225.7 1146.6,235.5 1154.3,244.4 1162.0,240.9 1169.7,238.7 1177.4,226.8 1185.1,220.5 1192.8,214.5 1200.5,202.7 1208.2,193.1 1215.9,194.0 1223.6,183.1 1231.3,182.6 1239.0,174.4 1246.7,170.8 1254.4,172.1 1262.1,184.2 1269.8,197.9 1277.4,211.1 1285.1,231.4 1292.8,247.3 1300.5,259.0 1308.2,275.3 1315.9,288.8 1323.6,299.7 1331.3,312.8 1339.0,326.5 1346.7,342.2 1354.4,359.7 1362.1,367.9 1369.8,383.0 1377.5,398.3 1385.2,413.1 1392.9,416.9 1400.6,425.9 1408.3,429.7 1416.0,431.9" fill="none" stroke="#5b72d8" stroke-width="1.2"/>
<polyline points="0.0,843.6 20.6,842.3 38.6,837.7 56.6,828.2 77.2,816.6 87.5,812.8 102.9,801.2 120.9,787.0 138.9,775.5 156.9,767.2 180.1,769.0 195.5,766.5 218.6,778.0 241.8,796.0 259.8,815.3 272.7,817.1 293.2,817.1 313.8,822.3 334.4,835.9 355.0,839.0 370.4,840.3 385.9,843.6 405.4,848.8 415.7,847.5 428.6,837.2 446.6,821.8 467.2,808.9 492.9,793.5 513.5,779.3 534.1,769.0 554.6,765.2 575.2,763.9 595.8,763.1 613.8,766.5 631.8,775.5 647.2,783.2 660.1,787.0 678.1,799.9 693.5,806.3 714.1,820.5 732.1,830.8 750.1,829.5 760.4,829.5 775.9,821.8 805.7,802.5 831.4,780.6 852.0,762.6 870.0,755.4 890.6,758.0 913.8,767.2 931.8,778.0 954.9,781.9 978.1,782.4 998.6,771.6 1016.7,761.3 1039.8,740.7 1057.8,733.8 1075.8,727.9 1088.7,729.7 1100.0,734.8 1112.9,738.9 1125.7,743.3 1138.6,754.9 1151.4,767.7 1164.3,776.8 1177.2,781.9 1192.6,782.7 1208.0,777.5 1223.5,776.0 1238.9,774.2 1254.3,770.8 1267.2,772.4 1280.1,779.3 1295.5,790.9 1310.9,803.8 1326.4,819.2 1341.8,834.6 1357.2,851.4 1372.7,864.2 1388.1,871.9 1403.5,874.5 1415.9,875.3" fill="none" stroke="#f3e890" stroke-width="2"/>
<polyline points="0.0,853.9 6.4,826.4 14.1,825.1 21.1,823.8 29.6,804.3 37.3,797.3 45.0,795.3 52.7,798.6 61.0,777.5 68.2,781.9 76.4,787.0 84.1,811.5 92.1,788.3 99.5,777.3 106.8,776.0 115.0,752.3 122.2,728.6 129.9,740.0 137.1,747.2 145.3,747.2 153.1,736.4 160.8,788.3 168.5,785.8 176.2,796.0 183.9,801.2 191.6,766.5 199.4,803.8 207.1,833.3 214.8,815.3 222.5,817.9 229.7,819.7 237.9,841.1 245.7,839.3 253.4,860.4 261.1,841.1 268.8,800.7 276.5,799.9 284.2,800.7 292.0,787.0 299.2,788.3 306.6,847.5 314.3,854.7 322.1,882.2 329.8,886.6 337.5,888.6 345.2,852.6 352.9,862.4 360.6,857.3 368.4,855.2 376.1,825.6 383.8,826.4 391.3,808.9 399.5,826.9 407.2,810.2 415.0,835.1 422.2,810.2 429.9,803.2 437.6,787.0 445.3,782.7 453.0,789.6 460.7,794.0 468.5,776.0 476.2,785.2 483.9,773.4 491.6,758.7 499.3,733.0 507.0,744.6 514.8,745.1 522.5,751.8 530.2,754.4 537.9,777.5 545.6,783.2 553.3,765.2 561.1,759.5 568.8,760.0 576.5,801.7 584.2,782.4 591.9,772.9 599.6,747.7 607.4,763.9 615.1,770.8 622.8,761.3 630.5,815.3 638.2,830.8 645.9,841.1 653.7,803.8 661.4,832.6 669.1,846.2 676.8,829.0 684.5,825.6 692.3,824.9 700.0,841.1 707.7,846.2 715.4,821.8 723.1,830.0 730.8,843.6 738.6,829.5 746.3,825.6 754.0,808.4 761.7,805.0 769.4,783.2 777.1,770.3 784.6,757.5 792.3,767.2 800.6,774.2 808.3,765.2 816.0,747.2 823.2,732.3 831.4,740.0 839.2,737.7 846.4,722.0 854.6,754.9 862.3,765.7 870.0,760.5 877.7,786.3 885.5,795.5 893.2,790.9 899.6,787.0 907.3,808.9 915.0,812.8 922.8,805.0 930.5,828.2 938.2,759.5 945.9,742.5 953.6,756.2 961.4,761.8 969.1,763.9 976.8,766.7 984.5,758.7 992.2,730.5 999.9,724.0 1007.7,753.6 1015.4,735.6 1023.1,713.7 1030.8,702.2 1038.5,697.0 1046.2,722.7 1054.0,702.9 1061.7,720.2 1069.4,715.0 1077.1,751.8 1084.8,771.6 1092.5,787.8 1100.0,778.6 1107.7,790.4 1115.4,775.5 1123.2,764.7 1130.9,778.0 1138.6,800.7 1146.3,807.6 1154.0,811.0 1161.7,781.9 1169.5,783.2 1177.2,759.5 1184.9,769.8 1192.6,767.2 1200.3,751.0 1208.0,751.8 1215.8,780.6 1223.5,753.6 1231.2,778.0 1238.9,761.3 1246.6,769.8 1254.3,783.2 1262.1,812.8 1269.8,822.3 1277.5,828.2 1285.2,848.8 1292.9,847.5 1300.6,844.4 1308.4,859.8 1316.1,860.4 1323.8,860.9 1331.5,870.6 1339.2,877.1 1346.9,886.1 1354.7,896.4 1362.4,870.1 1370.1,886.6 1377.8,891.7 1385.5,896.4 1393.2,862.4 1401.0,873.2 1408.7,861.6 1415.9,857.8" fill="none" stroke="#6f62a6" stroke-width="1.25"/>
<rect x="116.5" y="8" width="1" height="28" fill="#eceef2"/>
<rect x="155.5" y="8" width="1" height="28" fill="#eceef2"/>
<rect x="195.5" y="8" width="1" height="28" fill="#eceef2"/>
<rect x="327.5" y="8" width="1" height="28" fill="#eceef2"/>
<rect x="474.2" y="8" width="1" height="28" fill="#eceef2"/>
<rect x="1394.1" y="8" width="1" height="28" fill="#eceef2"/>
<g fill="none" stroke="#131722" stroke-width="1.6"><ellipse cx="10.5" cy="22" rx="4.6" ry="6"/><line x1="13.5" y1="26.5" x2="17" y2="30.5"/></g>
<text x="20.7" y="28.3" font-size="16" fill="#131722" font-weight="bold" text-anchor="start" textLength="43.8" lengthAdjust="spacingAndGlyphs" >EURUSD</text>
<g fill="none" stroke="#131722" stroke-width="1.3"><ellipse cx="96.2" cy="23" rx="8" ry="10.6"/><line x1="96.2" y1="17" x2="96.2" y2="29"/><line x1="91.5" y1="23" x2="101" y2="23"/></g>
<text x="133" y="28.3" font-size="16" fill="#131722" font-weight="normal" text-anchor="start" textLength="7.5" lengthAdjust="spacingAndGlyphs" stroke="#131722" stroke-width="0.3">D</text>
<g fill="none" stroke="#131722" stroke-width="1.3"><rect x="171.5" y="16" width="4.5" height="14"/><line x1="173.7" y1="11.5" x2="173.7" y2="16"/><line x1="173.7" y1="30" x2="173.7" y2="34"/><rect x="179.5" y="19" width="4" height="8"/><line x1="181.5" y1="15" x2="181.5" y2="19"/><line x1="181.5" y1="27" x2="181.5" y2="31"/></g>
<g fill="none" stroke="#131722" stroke-width="1.3"><polyline points="210,21 215,15 219,19 225,12.5"/><rect x="210.5" y="28" width="3" height="4.5"/><rect x="215" y="25" width="3" height="7.5"/><rect x="219.5" y="22" width="3" height="10.5"/></g>
<text x="230.5" y="28.3" font-size="16" fill="#131722" font-weight="normal" text-anchor="start" textLength="53" lengthAdjust="spacingAndGlyphs" stroke="#131722" stroke-width="0.3">Indicators</text>
<g fill="none" stroke="#131722" stroke-width="1.4"><rect x="301.5" y="14" width="5" height="6.5" rx="1.5"/><rect x="309.5" y="14" width="5" height="6.5" rx="1.5"/><rect x="301.5" y="23.5" width="5" height="6.5" rx="1.5"/><rect x="309.5" y="23.5" width="5" height="6.5" rx="1.5"/></g>
<g fill="none" stroke="#131722" stroke-width="1.3"><path d="M354 24 A7 9 0 1 0 348 31.5"/><polyline points="348,17.5 348,23 351,23"/><line x1="341" y1="14" x2="344" y2="12"/><line x1="355" y1="14" x2="352" y2="12"/><line x1="353.5" y1="26" x2="353.5" y2="33.5"/><line x1="350" y1="30" x2="357" y2="30"/></g>
<text x="362.5" y="28.3" font-size="16" fill="#131722" font-weight="normal" text-anchor="start" textLength="26" lengthAdjust="spacingAndGlyphs" stroke="#131722" stroke-width="0.3">Alert</text>
<g fill="none" stroke="#131722" stroke-width="1.3" stroke-linejoin="round"><polygon points="414,17 408.5,23 414,29"/><polygon points="420.5,17 415,23 420.5,29"/></g>
<text x="427.7" y="28.3" font-size="16" fill="#131722" font-weight="normal" text-anchor="start" textLength="35" lengthAdjust="spacingAndGlyphs" stroke="#131722" stroke-width="0.3">Replay</text>
<g fill="none" stroke="#c9cbd1" stroke-width="1.3"><path d="M490 19 L494 16 M490 19 L494 22 M490 19 H497 Q501 19 501 24 V28"/><path d="M534 19 L530 16 M534 19 L530 22 M534 19 H527 Q523 19 523 24 V28"/></g>
<rect x="1289.5" y="13.5" width="16" height="19" rx="2.5" fill="none" stroke="#131722" stroke-width="1.5"/>
<text x="1318" y="28.3" font-size="16" fill="#131722" font-weight="normal" text-anchor="start" textLength="50" lengthAdjust="spacingAndGlyphs" stroke="#131722" stroke-width="0.3">Unnamed</text>
<polyline points="1379,20.5 1382.3,24 1385.6,20.5" fill="none" stroke="#131722" stroke-width="1.3"/>
<g fill="none" stroke="#131722" stroke-width="1.3"><path d="M1414 13 A7 9 0 1 0 1420.5 25"/><line x1="1418" y1="28" x2="1422" y2="33"/><polyline points="1416,11 1412.5,20 1417,20 1414.5,26"/></g>
<g fill="none" stroke="#131722" stroke-width="1.4"><polygon points="1442,12.5 1452,12.5 1456.5,22.5 1452,32.5 1442,32.5 1437.5,22.5"/><ellipse cx="1447" cy="22.5" rx="3.3" ry="4"/></g>
<g fill="none" stroke="#131722" stroke-width="1.4"><polyline points="1473,18.5 1473,14.5 1477,14.5"/><polyline points="1483,14.5 1487,14.5 1487,18.5"/><polyline points="1473,27 1473,31 1477,31"/><polyline points="1483,31 1487,31 1487,27"/></g>
<g fill="none" stroke="#131722" stroke-width="1.4"><path d="M1503.5 17 H1507.5 L1509.5 13 H1515 L1517 17 H1520.5 V31.5 H1503.5 Z"/><ellipse cx="1512.2" cy="23.5" rx="3.6" ry="4.5"/></g>
<rect x="1532" y="7" width="40" height="31" rx="15" fill="#2962ff"/>
<text x="1538" y="28.5" font-size="15" fill="#ffffff" font-weight="normal" text-anchor="start" textLength="16" lengthAdjust="spacingAndGlyphs" stroke="#ffffff" stroke-width="0.3">Pu</text>
<defs><clipPath id="usf"><ellipse cx="16.8" cy="62.8" rx="4.6" ry="6.2"/></clipPath></defs>
<g clip-path="url(#usf)"><rect x="11" y="56" width="12" height="14" fill="#fff"/><rect x="11" y="57.5" width="12" height="1.6" fill="#d04a5a"/><rect x="11" y="60.7" width="12" height="1.6" fill="#d04a5a"/><rect x="11" y="63.9" width="12" height="1.6" fill="#d04a5a"/><rect x="11" y="67.1" width="12" height="1.6" fill="#d04a5a"/><rect x="11" y="56" width="6" height="6" fill="#5a9ad8"/></g>
<ellipse cx="11.2" cy="70.2" rx="5.6" ry="7" fill="#1d5aae" stroke="#fff" stroke-width="1"/>
<text x="25.2" y="73.6" font-size="18" fill="#3b3e48" font-weight="normal" text-anchor="start" textLength="178" lengthAdjust="spacingAndGlyphs" stroke="none">Euro / U.S. Dollar · 1D · FXCM</text>
<rect x="216" y="57" width="34" height="20" rx="9" fill="#f4f5f7"/>
<rect x="216" y="57" width="17" height="20" rx="8" fill="#e6f4f1"/><rect x="233" y="57" width="17" height="20" rx="8" fill="#fbe7ee"/>
<ellipse cx="225" cy="67" rx="3" ry="3.6" fill="#089981"/>
<text x="234.5" y="72" font-size="15" fill="#e0407a" font-weight="bold" text-anchor="start" textLength="10" lengthAdjust="spacingAndGlyphs" >≈</text>
<text x="263.5" y="73" font-size="14.5" fill="#5d606b" font-weight="normal" text-anchor="start" textLength="6.1" lengthAdjust="spacingAndGlyphs" stroke="#5d606b" stroke-width="0.3">O</text>
<text x="271" y="73" font-size="14.5" fill="#e05c5c" font-weight="normal" text-anchor="start" textLength="39" lengthAdjust="spacingAndGlyphs" stroke="#e05c5c" stroke-width="0.3">1.11561</text>
<text x="316.8" y="73" font-size="14.5" fill="#5d606b" font-weight="normal" text-anchor="start" textLength="6.6" lengthAdjust="spacingAndGlyphs" stroke="#5d606b" stroke-width="0.3">H</text>
<text x="324.6" y="73" font-size="14.5" fill="#e05c5c" font-weight="normal" text-anchor="start" textLength="38.6" lengthAdjust="spacingAndGlyphs" stroke="#e05c5c" stroke-width="0.3">1.11670</text>
<text x="368.6" y="73" font-size="14.5" fill="#5d606b" font-weight="normal" text-anchor="start" textLength="5.4" lengthAdjust="spacingAndGlyphs" stroke="#5d606b" stroke-width="0.3">L</text>
<text x="375.5" y="73" font-size="14.5" fill="#e05c5c" font-weight="normal" text-anchor="start" textLength="38.3" lengthAdjust="spacingAndGlyphs" stroke="#e05c5c" stroke-width="0.3">1.10828</text>
<text x="420" y="73" font-size="14.5" fill="#5d606b" font-weight="normal" text-anchor="start" textLength="6" lengthAdjust="spacingAndGlyphs" stroke="#5d606b" stroke-width="0.3">C</text>
<text x="427.3" y="73" font-size="14.5" fill="#e05c5c" font-weight="normal" text-anchor="start" textLength="38.6" lengthAdjust="spacingAndGlyphs" stroke="#e05c5c" stroke-width="0.3">1.11108</text>
<text x="471.7" y="73" font-size="14.5" fill="#e05c5c" font-weight="normal" text-anchor="start" textLength="44.8" lengthAdjust="spacingAndGlyphs" stroke="#e05c5c" stroke-width="0.3">−0.00490</text>
<text x="520" y="73" font-size="14.5" fill="#e05c5c" font-weight="normal" text-anchor="start" textLength="41.7" lengthAdjust="spacingAndGlyphs" stroke="#e05c5c" stroke-width="0.3">(−0.44%)</text>
<rect x="5.7" y="85.5" width="56.5" height="37.5" rx="4" fill="#fff" stroke="#e07880" stroke-width="1.2"/>
<rect x="89.5" y="85.5" width="56.5" height="37.5" rx="4" fill="#fff" stroke="#5a78d0" stroke-width="1.2"/>
<text x="15" y="102.5" font-size="13.5" fill="#d9505a" font-weight="normal" text-anchor="start" textLength="33" lengthAdjust="spacingAndGlyphs" stroke="#d9505a" stroke-width="0.3">1.0818</text>
<text x="48.5" y="98" font-size="9" fill="#d9505a" font-weight="normal" text-anchor="start" textLength="4.5" lengthAdjust="spacingAndGlyphs" stroke="#d9505a" stroke-width="0.3">3</text>
<text x="24" y="118" font-size="12.5" fill="#d9505a" font-weight="normal" text-anchor="start" textLength="20" lengthAdjust="spacingAndGlyphs" stroke="#d9505a" stroke-width="0.3">SELL</text>
<text x="98.5" y="102.5" font-size="13.5" fill="#4a64c8" font-weight="normal" text-anchor="start" textLength="33" lengthAdjust="spacingAndGlyphs" stroke="#4a64c8" stroke-width="0.3">1.0819</text>
<text x="132" y="98" font-size="9" fill="#4a64c8" font-weight="normal" text-anchor="start" textLength="4.5" lengthAdjust="spacingAndGlyphs" stroke="#4a64c8" stroke-width="0.3">0</text>
<text x="108" y="118" font-size="12.5" fill="#4a64c8" font-weight="normal" text-anchor="start" textLength="18" lengthAdjust="spacingAndGlyphs" stroke="#4a64c8" stroke-width="0.3">BUY</text>
<text x="70" y="108.5" font-size="11" fill="#131722" font-weight="normal" text-anchor="start" textLength="12" lengthAdjust="spacingAndGlyphs" stroke="#131722" stroke-width="0.5">0.7</text>
<text x="6.4" y="147.5" font-size="14" fill="#3a3d47" font-weight="normal" text-anchor="start" textLength="98.8" lengthAdjust="spacingAndGlyphs" stroke="#3a3d47" stroke-width="0.3">EMA 9 close 0 SMA 5</text>
<text x="113" y="147.5" font-size="14" fill="#3f5bd0" font-weight="normal" text-anchor="start" textLength="38" lengthAdjust="spacingAndGlyphs" stroke="#3f5bd0" stroke-width="0.3">1.11144</text>
<rect x="7" y="159" width="23.5" height="21" rx="3" fill="#fff" stroke="#e0e3eb" stroke-width="1"/>
<polyline points="14.8,172 18.7,168 22.6,172" fill="none" stroke="#131722" stroke-width="1.6"/>
<rect x="1425.5" y="54" width="18.5" height="26" rx="3" fill="#fff" stroke="#e8eaee" stroke-width="1"/>
<rect x="1449.5" y="54" width="18.5" height="26" rx="3" fill="#fff" stroke="#e8eaee" stroke-width="1"/>
<rect x="1473.5" y="54" width="18.5" height="26" rx="3" fill="#fff" stroke="#e8eaee" stroke-width="1"/>
<g fill="none" stroke="#2a2e39" stroke-width="1.2"><line x1="1435" y1="61.5" x2="1435" y2="72.5"/><polyline points="1432,69 1435,72.5 1438,69"/><polyline points="1456.3,60.5 1459.6,64 1462.9,60.5"/><polyline points="1456.3,73.5 1459.6,70 1462.9,73.5"/><path d="M1479 64.5 V62.5 Q1479 61 1480.5 61 H1486.5 Q1488 61 1488 62.5 V64.5 M1479 69.5 V72 Q1479 73.4 1480.5 73.4 H1486.5 Q1488 73.4 1488 72 V69.5"/></g>
<rect x="1501" y="54.5" width="48.5" height="26.5" rx="4" fill="#fff" stroke="#eceef2" stroke-width="1"/>
<text x="1503.7" y="73" font-size="15" fill="#131722" font-weight="normal" text-anchor="start" textLength="17.3" lengthAdjust="spacingAndGlyphs" stroke="#131722" stroke-width="0.3">USD</text>
<polyline points="1541,67.2 1543.3,69.5 1545.6,67.2" fill="none" stroke="#131722" stroke-width="1.4"/>
<rect x="1496.5" y="48" width="1.5" height="901" fill="#5d606b"/>
<text x="1505" y="128.0" font-size="14" fill="#474a54" font-weight="normal" text-anchor="start" textLength="35" lengthAdjust="spacingAndGlyphs" stroke="#474a54" stroke-width="0.3">1.12000</text>
<text x="1505" y="169.5999999999991" font-size="14" fill="#474a54" font-weight="normal" text-anchor="start" textLength="35" lengthAdjust="spacingAndGlyphs" stroke="#474a54" stroke-width="0.3">1.11500</text>
<text x="1505" y="252.7999999999992" font-size="14" fill="#474a54" font-weight="normal" text-anchor="start" textLength="35" lengthAdjust="spacingAndGlyphs" stroke="#474a54" stroke-width="0.3">1.10500</text>
<text x="1505" y="335.99999999999926" font-size="14" fill="#474a54" font-weight="normal" text-anchor="start" textLength="35" lengthAdjust="spacingAndGlyphs" stroke="#474a54" stroke-width="0.3">1.09500</text>
<text x="1505" y="419.19999999999936" font-size="14" fill="#474a54" font-weight="normal" text-anchor="start" textLength="35" lengthAdjust="spacingAndGlyphs" stroke="#474a54" stroke-width="0.3">1.08500</text>
<text x="1505" y="502.3999999999994" font-size="14" fill="#474a54" font-weight="normal" text-anchor="start" textLength="35" lengthAdjust="spacingAndGlyphs" stroke="#474a54" stroke-width="0.3">1.07500</text>
<text x="1505" y="544.0000000000005" font-size="14" fill="#474a54" font-weight="normal" text-anchor="start" textLength="35" lengthAdjust="spacingAndGlyphs" stroke="#474a54" stroke-width="0.3">1.07000</text>
<text x="1505" y="585.5999999999995" font-size="14" fill="#474a54" font-weight="normal" text-anchor="start" textLength="35" lengthAdjust="spacingAndGlyphs" stroke="#474a54" stroke-width="0.3">1.06500</text>
<text x="1505" y="627.2000000000005" font-size="14" fill="#474a54" font-weight="normal" text-anchor="start" textLength="35" lengthAdjust="spacingAndGlyphs" stroke="#474a54" stroke-width="0.3">1.06000</text>
<text x="1505" y="668.7999999999996" font-size="14" fill="#474a54" font-weight="normal" text-anchor="start" textLength="35" lengthAdjust="spacingAndGlyphs" stroke="#474a54" stroke-width="0.3">1.05500</text>
<text x="1505" y="294.40000000000015" font-size="14" fill="#474a54" font-weight="normal" text-anchor="start" textLength="35" lengthAdjust="spacingAndGlyphs" stroke="#474a54" stroke-width="0.3">1.10000</text>
<rect x="1497.5" y="195.2" width="48" height="18.7" rx="2" fill="#f23645"/>
<text x="1505" y="209.5" font-size="14" fill="#fff" font-weight="normal" text-anchor="start" textLength="34" lengthAdjust="spacingAndGlyphs" stroke="#fff" stroke-width="0.35">1.11021</text>
<rect x="1497.5" y="272.2" width="48" height="18.8" rx="2" fill="#2962ff"/>
<text x="1505" y="286.5" font-size="14" fill="#fff" font-weight="normal" text-anchor="start" textLength="34" lengthAdjust="spacingAndGlyphs" stroke="#fff" stroke-width="0.35">1.10101</text>
<rect x="1497.5" y="356" width="48" height="31" rx="2" fill="#131722"/>
<text x="1505" y="371" font-size="14" fill="#fff" font-weight="normal" text-anchor="start" textLength="34" lengthAdjust="spacingAndGlyphs" stroke="#fff" stroke-width="0.35">1.09085</text>
<rect x="1497.5" y="362.5" width="48" height="24" fill="#131722"/>
<text x="1505" y="381" font-size="14" fill="#fff" font-weight="normal" text-anchor="start" textLength="34" lengthAdjust="spacingAndGlyphs" stroke="#fff" stroke-width="0.35">1.08966</text>
<rect x="1479" y="364" width="19" height="23" rx="2" fill="#131722"/>
<g fill="none" stroke="#fff" stroke-width="1.1"><ellipse cx="1487.8" cy="375.5" rx="6.5" ry="8.2"/><line x1="1487.8" y1="371" x2="1487.8" y2="380"/><line x1="1484" y1="375.5" x2="1491.6" y2="375.5"/></g>
<rect x="1497.5" y="431.8" width="51" height="34.5" rx="2" fill="#22a699"/>
<text x="1505" y="446" font-size="14" fill="#fff" font-weight="normal" text-anchor="start" textLength="34" lengthAdjust="spacingAndGlyphs" stroke="#fff" stroke-width="0.35">1.08170</text>
<text x="1504" y="461" font-size="14" fill="#fff" font-weight="normal" text-anchor="start" textLength="36" lengthAdjust="spacingAndGlyphs" stroke="#fff" stroke-width="0.35">12:30:05</text>
<rect x="1497.5" y="467" width="48" height="18.5" rx="2" fill="#f23645"/>
<text x="1505" y="481.5" font-size="14" fill="#fff" font-weight="normal" text-anchor="start" textLength="34" lengthAdjust="spacingAndGlyphs" stroke="#fff" stroke-width="0.35">1.08094</text>
<text x="1504.5" y="682.6" font-size="13.5" fill="#474a54" font-weight="normal" text-anchor="start" textLength="25" lengthAdjust="spacingAndGlyphs" stroke="#474a54" stroke-width="0.3">80.00</text>
<text x="1504.5" y="723.7" font-size="13.5" fill="#474a54" font-weight="normal" text-anchor="start" textLength="25" lengthAdjust="spacingAndGlyphs" stroke="#474a54" stroke-width="0.3">70.00</text>
<text x="1504.5" y="764.8000000000001" font-size="13.5" fill="#474a54" font-weight="normal" text-anchor="start" textLength="25" lengthAdjust="spacingAndGlyphs" stroke="#474a54" stroke-width="0.3">60.00</text>
<text x="1504.5" y="805.9000000000001" font-size="13.5" fill="#474a54" font-weight="normal" text-anchor="start" textLength="25" lengthAdjust="spacingAndGlyphs" stroke="#474a54" stroke-width="0.3">50.00</text>
<text x="1504.5" y="847.0" font-size="13.5" fill="#474a54" font-weight="normal" text-anchor="start" textLength="25" lengthAdjust="spacingAndGlyphs" stroke="#474a54" stroke-width="0.3">40.00</text>
<text x="1504.5" y="888.1" font-size="13.5" fill="#474a54" font-weight="normal" text-anchor="start" textLength="25" lengthAdjust="spacingAndGlyphs" stroke="#474a54" stroke-width="0.3">30.00</text>
<rect x="0" y="917.5" width="1553" height="1.5" fill="#5d606b"/>
<text x="22.5" y="937.8" font-size="13.5" fill="#474a54" font-weight="normal" text-anchor="middle" textLength="10" lengthAdjust="spacingAndGlyphs" stroke="#474a54" stroke-width="0.3">19</text>
<text x="91.8" y="937.8" font-size="13.5" fill="#474a54" font-weight="normal" text-anchor="middle" textLength="17.5" lengthAdjust="spacingAndGlyphs" stroke="#474a54" stroke-width="0.3">Mar</text>
<text x="176.4" y="937.8" font-size="13.5" fill="#474a54" font-weight="normal" text-anchor="middle" textLength="10" lengthAdjust="spacingAndGlyphs" stroke="#474a54" stroke-width="0.3">18</text>
<text x="253.4" y="937.8" font-size="13.5" fill="#474a54" font-weight="normal" text-anchor="middle" textLength="17" lengthAdjust="spacingAndGlyphs" stroke="#474a54" stroke-width="0.3">Apr</text>
<text x="330.3" y="937.8" font-size="13.5" fill="#474a54" font-weight="normal" text-anchor="middle" textLength="10" lengthAdjust="spacingAndGlyphs" stroke="#474a54" stroke-width="0.3">15</text>
<text x="422.7" y="937.8" font-size="13.5" fill="#474a54" font-weight="normal" text-anchor="middle" textLength="18.8" lengthAdjust="spacingAndGlyphs" stroke="#474a54" stroke-width="0.3">May</text>
<text x="522.7" y="937.8" font-size="13.5" fill="#474a54" font-weight="normal" text-anchor="middle" textLength="10" lengthAdjust="spacingAndGlyphs" stroke="#474a54" stroke-width="0.3">20</text>
<text x="599.6" y="937.8" font-size="13.5" fill="#474a54" font-weight="normal" text-anchor="middle" textLength="17.5" lengthAdjust="spacingAndGlyphs" stroke="#474a54" stroke-width="0.3">Jun</text>
<text x="676.6" y="937.8" font-size="13.5" fill="#474a54" font-weight="normal" text-anchor="middle" textLength="10" lengthAdjust="spacingAndGlyphs" stroke="#474a54" stroke-width="0.3">17</text>
<text x="753.5" y="937.8" font-size="13.5" fill="#474a54" font-weight="normal" text-anchor="middle" textLength="15.5" lengthAdjust="spacingAndGlyphs" stroke="#474a54" stroke-width="0.3">Jul</text>
<text x="830.5" y="937.8" font-size="13.5" fill="#474a54" font-weight="normal" text-anchor="middle" textLength="10" lengthAdjust="spacingAndGlyphs" stroke="#474a54" stroke-width="0.3">15</text>
<text x="930.5" y="937.8" font-size="13.5" fill="#474a54" font-weight="normal" text-anchor="middle" textLength="18" lengthAdjust="spacingAndGlyphs" stroke="#474a54" stroke-width="0.3">Aug</text>
<text x="1022.8" y="937.8" font-size="13.5" fill="#474a54" font-weight="normal" text-anchor="middle" textLength="10" lengthAdjust="spacingAndGlyphs" stroke="#474a54" stroke-width="0.3">19</text>
<text x="1099.8" y="937.8" font-size="13.5" fill="#474a54" font-weight="normal" text-anchor="middle" textLength="18" lengthAdjust="spacingAndGlyphs" stroke="#474a54" stroke-width="0.3">Sep</text>
<text x="1176.9" y="937.8" font-size="13.5" fill="#474a54" font-weight="normal" text-anchor="middle" textLength="10" lengthAdjust="spacingAndGlyphs" stroke="#474a54" stroke-width="0.3">16</text>
<text x="1263" y="937.8" font-size="13.5" fill="#474a54" font-weight="normal" text-anchor="middle" textLength="17" lengthAdjust="spacingAndGlyphs" stroke="#474a54" stroke-width="0.3">Oct</text>
<text x="1330.7" y="937.8" font-size="13.5" fill="#474a54" font-weight="normal" text-anchor="middle" textLength="10" lengthAdjust="spacingAndGlyphs" stroke="#474a54" stroke-width="0.3">14</text>
<text x="1438.5" y="937.8" font-size="13.5" fill="#474a54" font-weight="normal" text-anchor="middle" textLength="18" lengthAdjust="spacingAndGlyphs" stroke="#474a54" stroke-width="0.3">Nov</text>
<rect x="1174.6" y="918.5" width="82" height="26" rx="2" fill="#131722"/>
<text x="1181" y="938.5" font-size="14" fill="#fff" font-weight="normal" text-anchor="start" textLength="69" lengthAdjust="spacingAndGlyphs" stroke="#fff" stroke-width="0.3">Mon 23 Sep '24</text>
<g fill="none" stroke="#131722" stroke-width="1.3"><polygon points="1522,927.5 1529,927.5 1532,934.5 1529,941.5 1522,941.5 1519,934.5"/><ellipse cx="1525.5" cy="934.5" rx="2" ry="2.6"/></g>
<rect x="0" y="949" width="1555" height="2.2" fill="#e6e7ea"/>
<rect x="1553" y="48" width="2" height="907" fill="#e5e4ee"/>
<text x="5.7" y="696.5" font-size="14" fill="#4a4d57" font-weight="normal" text-anchor="start" textLength="105" lengthAdjust="spacingAndGlyphs" stroke="#4a4d57" stroke-width="0.3">RSI 14 close SMA 14 2</text>
<text x="118" y="696.5" font-size="14" fill="#6e62a8" font-weight="normal" text-anchor="start" textLength="27" lengthAdjust="spacingAndGlyphs" stroke="#6e62a8" stroke-width="0.3">54.77</text>
<text x="150.5" y="696.5" font-size="14" fill="#efe57a" font-weight="normal" text-anchor="start" textLength="27" lengthAdjust="spacingAndGlyphs" stroke="#efe57a" stroke-width="0.3">55.55</text>
<text x="183" y="696.5" font-size="13" fill="#131722" font-weight="normal" text-anchor="start" textLength="7" lengthAdjust="spacingAndGlyphs" stroke="#131722" stroke-width="0.3">Ø</text>
<text x="195.5" y="696.5" font-size="13" fill="#131722" font-weight="normal" text-anchor="start" textLength="7" lengthAdjust="spacingAndGlyphs" stroke="#131722" stroke-width="0.3">Ø</text>
<g fill="#131722"><path d="M8.7 884.8 H19 V901.5 H13.4 V891.5 H8.7 Z"/><ellipse cx="23.2" cy="888.2" rx="2" ry="2.4"/><path d="M27 884.8 H34 L29.5 901.5 H22.8 Z"/></g>
<text x="40" y="901.5" font-size="23" fill="#131722" font-weight="bold" text-anchor="start" textLength="103.5" lengthAdjust="spacingAndGlyphs" >TradingView</text>
<ellipse cx="1417" cy="600.5" rx="8.5" ry="11.2" fill="#fff" stroke="#9c27b0" stroke-width="1.5"/>
<polyline points="1419,594 1414.5,601.5 1419.5,600 1415,607" fill="none" stroke="#9c27b0" stroke-width="1.5"/>
<defs><clipPath id="cc0"><ellipse cx="1416.0" cy="628.5" rx="6.6" ry="9.6"/></clipPath><clipPath id="cc1"><ellipse cx="1424.3" cy="628.5" rx="6.6" ry="9.6"/></clipPath><clipPath id="cc2"><ellipse cx="1432.6" cy="628.5" rx="6.6" ry="9.6"/></clipPath><clipPath id="cd0"><ellipse cx="1416.0" cy="657" rx="6.6" ry="9.6"/></clipPath><clipPath id="cd1"><ellipse cx="1423.8" cy="657" rx="6.6" ry="9.6"/></clipPath><clipPath id="cd2"><ellipse cx="1431.6" cy="657" rx="6.6" ry="9.6"/></clipPath><clipPath id="cd3"><ellipse cx="1439.4" cy="657" rx="6.6" ry="9.6"/></clipPath></defs>
<ellipse cx="1432.6" cy="628.5" rx="8.6" ry="11.6" fill="#fff" stroke="#e0424a" stroke-width="1.6"/>
<g clip-path="url(#cc2)"><rect x="1424.6" y="617.5" width="16" height="22" fill="#2356a8"/></g>
<circle cx="1436.2" cy="628.5" r="0.7" fill="#6fb0e0"/>
<circle cx="1435.1" cy="631.8" r="0.7" fill="#6fb0e0"/>
<circle cx="1432.6" cy="633.1" r="0.7" fill="#6fb0e0"/>
<circle cx="1430.1" cy="631.8" r="0.7" fill="#6fb0e0"/>
<circle cx="1429.0" cy="628.5" r="0.7" fill="#6fb0e0"/>
<circle cx="1430.1" cy="625.2" r="0.7" fill="#6fb0e0"/>
<circle cx="1432.6" cy="623.9" r="0.7" fill="#6fb0e0"/>
<circle cx="1435.1" cy="625.2" r="0.7" fill="#6fb0e0"/>
<ellipse cx="1424.3" cy="628.5" rx="8.6" ry="11.6" fill="#fff" stroke="#e0424a" stroke-width="1.6"/>
<g clip-path="url(#cc1)"><rect x="1416.3" y="617.5" width="16" height="22" fill="#fff"/><rect x="1416.3" y="619.5" width="16" height="2" fill="#e8505a"/><rect x="1416.3" y="623.5" width="16" height="2" fill="#e8505a"/><rect x="1416.3" y="627.5" width="16" height="2" fill="#e8505a"/><rect x="1416.3" y="631.5" width="16" height="2" fill="#e8505a"/><rect x="1416.3" y="635.5" width="16" height="2" fill="#e8505a"/><rect x="1416.3" y="617.5" width="8.5" height="9" fill="#3d7fd6"/></g>
<ellipse cx="1416.0" cy="628.5" rx="8.6" ry="11.6" fill="#fff" stroke="#e0424a" stroke-width="1.6"/>
<g clip-path="url(#cc0)"><rect x="1408.0" y="617.5" width="16" height="22" fill="#2356a8"/></g>
<circle cx="1419.6" cy="628.5" r="0.7" fill="#6fb0e0"/>
<circle cx="1418.5" cy="631.8" r="0.7" fill="#6fb0e0"/>
<circle cx="1416.0" cy="633.1" r="0.7" fill="#6fb0e0"/>
<circle cx="1413.5" cy="631.8" r="0.7" fill="#6fb0e0"/>
<circle cx="1412.4" cy="628.5" r="0.7" fill="#6fb0e0"/>
<circle cx="1413.5" cy="625.2" r="0.7" fill="#6fb0e0"/>
<circle cx="1416.0" cy="623.9" r="0.7" fill="#6fb0e0"/>
<circle cx="1418.5" cy="625.2" r="0.7" fill="#6fb0e0"/>
<ellipse cx="1439.4" cy="657" rx="8.6" ry="11.6" fill="#fff" stroke="#e0424a" stroke-width="1.6"/>
<g clip-path="url(#cd3)"><rect x="1431.4" y="646" width="16" height="22" fill="#fff"/><rect x="1431.4" y="648.0" width="16" height="2" fill="#e8505a"/><rect x="1431.4" y="652.0" width="16" height="2" fill="#e8505a"/><rect x="1431.4" y="656.0" width="16" height="2" fill="#e8505a"/><rect x="1431.4" y="660.0" width="16" height="2" fill="#e8505a"/><rect x="1431.4" y="664.0" width="16" height="2" fill="#e8505a"/><rect x="1431.4" y="646" width="8.5" height="9" fill="#3d7fd6"/></g>
<ellipse cx="1431.6" cy="657" rx="8.6" ry="11.6" fill="#fff" stroke="#e0424a" stroke-width="1.6"/>
<g clip-path="url(#cd2)"><rect x="1423.6" y="646" width="16" height="22" fill="#fff"/><rect x="1423.6" y="648.0" width="16" height="2" fill="#e8505a"/><rect x="1423.6" y="652.0" width="16" height="2" fill="#e8505a"/><rect x="1423.6" y="656.0" width="16" height="2" fill="#e8505a"/><rect x="1423.6" y="660.0" width="16" height="2" fill="#e8505a"/><rect x="1423.6" y="664.0" width="16" height="2" fill="#e8505a"/><rect x="1423.6" y="646" width="8.5" height="9" fill="#3d7fd6"/></g>
<ellipse cx="1423.8" cy="657" rx="8.6" ry="11.6" fill="#fff" stroke="#e0424a" stroke-width="1.6"/>
<g clip-path="url(#cd1)"><rect x="1415.8" y="646" width="16" height="22" fill="#2356a8"/></g>
<circle cx="1427.4" cy="657.0" r="0.7" fill="#6fb0e0"/>
<circle cx="1426.3" cy="660.3" r="0.7" fill="#6fb0e0"/>
<circle cx="1423.8" cy="661.6" r="0.7" fill="#6fb0e0"/>
<circle cx="1421.3" cy="660.3" r="0.7" fill="#6fb0e0"/>
<circle cx="1420.2" cy="657.0" r="0.7" fill="#6fb0e0"/>
<circle cx="1421.3" cy="653.7" r="0.7" fill="#6fb0e0"/>
<circle cx="1423.8" cy="652.4" r="0.7" fill="#6fb0e0"/>
<circle cx="1426.3" cy="653.7" r="0.7" fill="#6fb0e0"/>
<ellipse cx="1416.0" cy="657" rx="8.6" ry="11.6" fill="#fff" stroke="#e0424a" stroke-width="1.6"/>
<g clip-path="url(#cd0)"><rect x="1408.0" y="646" width="16" height="22" fill="#fff"/><rect x="1408.0" y="648.0" width="16" height="2" fill="#e8505a"/><rect x="1408.0" y="652.0" width="16" height="2" fill="#e8505a"/><rect x="1408.0" y="656.0" width="16" height="2" fill="#e8505a"/><rect x="1408.0" y="660.0" width="16" height="2" fill="#e8505a"/><rect x="1408.0" y="664.0" width="16" height="2" fill="#e8505a"/><rect x="1408.0" y="646" width="8.5" height="9" fill="#3d7fd6"/></g>
<rect x="221.6" y="415.0" width="2.4" height="3" fill="#1a1ab0"/><rect x="226.9" y="422.6" width="2.4" height="3" fill="#1a1ab0"/><rect x="232.2" y="430.2" width="2.4" height="3" fill="#1a1ab0"/><rect x="237.5" y="437.8" width="2.4" height="3" fill="#1a1ab0"/><rect x="242.8" y="445.4" width="2.4" height="3" fill="#1a1ab0"/><rect x="248.2" y="453.0" width="2.4" height="3" fill="#1a1ab0"/><rect x="253.5" y="460.6" width="2.4" height="3" fill="#1a1ab0"/><rect x="258.8" y="468.2" width="2.4" height="3" fill="#1a1ab0"/><rect x="264.1" y="475.8" width="2.4" height="3" fill="#1a1ab0"/><rect x="269.4" y="483.4" width="2.4" height="3" fill="#1a1ab0"/><rect x="274.7" y="491.0" width="2.4" height="3" fill="#1a1ab0"/>
<rect x="506.3" y="379.5" width="2.4" height="3" fill="#1a1ab0"/><rect x="514.0" y="378.1" width="2.4" height="3" fill="#1a1ab0"/><rect x="521.6" y="376.6" width="2.4" height="3" fill="#1a1ab0"/><rect x="529.3" y="375.1" width="2.4" height="3" fill="#1a1ab0"/><rect x="537.0" y="373.7" width="2.4" height="3" fill="#1a1ab0"/><rect x="544.7" y="372.2" width="2.4" height="3" fill="#1a1ab0"/><rect x="552.3" y="370.8" width="2.4" height="3" fill="#1a1ab0"/><rect x="560.0" y="369.4" width="2.4" height="3" fill="#1a1ab0"/><rect x="567.7" y="367.9" width="2.4" height="3" fill="#1a1ab0"/><rect x="575.4" y="366.4" width="2.4" height="3" fill="#1a1ab0"/><rect x="583.0" y="365.0" width="2.4" height="3" fill="#1a1ab0"/><rect x="590.7" y="363.6" width="2.4" height="3" fill="#1a1ab0"/><rect x="598.4" y="362.1" width="2.4" height="3" fill="#1a1ab0"/><rect x="606.1" y="360.6" width="2.4" height="3" fill="#1a1ab0"/><rect x="613.8" y="359.2" width="2.4" height="3" fill="#1a1ab0"/><rect x="621.4" y="357.8" width="2.4" height="3" fill="#1a1ab0"/><rect x="629.1" y="356.3" width="2.4" height="3" fill="#1a1ab0"/><rect x="636.8" y="354.9" width="2.4" height="3" fill="#1a1ab0"/><rect x="644.4" y="353.4" width="2.4" height="3" fill="#1a1ab0"/><rect x="652.1" y="351.9" width="2.4" height="3" fill="#1a1ab0"/><rect x="659.8" y="350.5" width="2.4" height="3" fill="#1a1ab0"/>
<rect x="684.1" y="480.3" width="2.4" height="3" fill="#1a1ab0"/><rect x="691.5" y="483.7" width="2.4" height="3" fill="#1a1ab0"/><rect x="699.0" y="487.1" width="2.4" height="3" fill="#1a1ab0"/><rect x="706.4" y="490.5" width="2.4" height="3" fill="#1a1ab0"/><rect x="713.9" y="493.9" width="2.4" height="3" fill="#1a1ab0"/><rect x="721.3" y="497.3" width="2.4" height="3" fill="#1a1ab0"/><rect x="728.7" y="500.7" width="2.4" height="3" fill="#1a1ab0"/><rect x="736.2" y="504.1" width="2.4" height="3" fill="#1a1ab0"/><rect x="743.6" y="507.5" width="2.4" height="3" fill="#1a1ab0"/><rect x="751.1" y="510.9" width="2.4" height="3" fill="#1a1ab0"/><rect x="758.5" y="514.3" width="2.4" height="3" fill="#1a1ab0"/>
<rect x="498.1" y="731.5" width="2.4" height="3" fill="#1a1ab0"/><rect x="505.8" y="732.8" width="2.4" height="3" fill="#1a1ab0"/><rect x="513.5" y="734.1" width="2.4" height="3" fill="#1a1ab0"/><rect x="521.3" y="735.5" width="2.4" height="3" fill="#1a1ab0"/><rect x="529.0" y="736.8" width="2.4" height="3" fill="#1a1ab0"/><rect x="536.7" y="738.1" width="2.4" height="3" fill="#1a1ab0"/><rect x="544.4" y="739.5" width="2.4" height="3" fill="#1a1ab0"/><rect x="552.1" y="740.8" width="2.4" height="3" fill="#1a1ab0"/><rect x="559.9" y="742.1" width="2.4" height="3" fill="#1a1ab0"/><rect x="567.6" y="743.4" width="2.4" height="3" fill="#1a1ab0"/><rect x="575.3" y="744.8" width="2.4" height="3" fill="#1a1ab0"/><rect x="583.0" y="746.1" width="2.4" height="3" fill="#1a1ab0"/><rect x="590.7" y="747.4" width="2.4" height="3" fill="#1a1ab0"/><rect x="598.5" y="748.7" width="2.4" height="3" fill="#1a1ab0"/><rect x="606.2" y="750.0" width="2.4" height="3" fill="#1a1ab0"/><rect x="613.9" y="751.4" width="2.4" height="3" fill="#1a1ab0"/><rect x="621.6" y="752.7" width="2.4" height="3" fill="#1a1ab0"/><rect x="629.3" y="754.0" width="2.4" height="3" fill="#1a1ab0"/><rect x="637.1" y="755.4" width="2.4" height="3" fill="#1a1ab0"/><rect x="644.8" y="756.7" width="2.4" height="3" fill="#1a1ab0"/><rect x="652.5" y="758.0" width="2.4" height="3" fill="#1a1ab0"/>
</svg>
</body></html>
